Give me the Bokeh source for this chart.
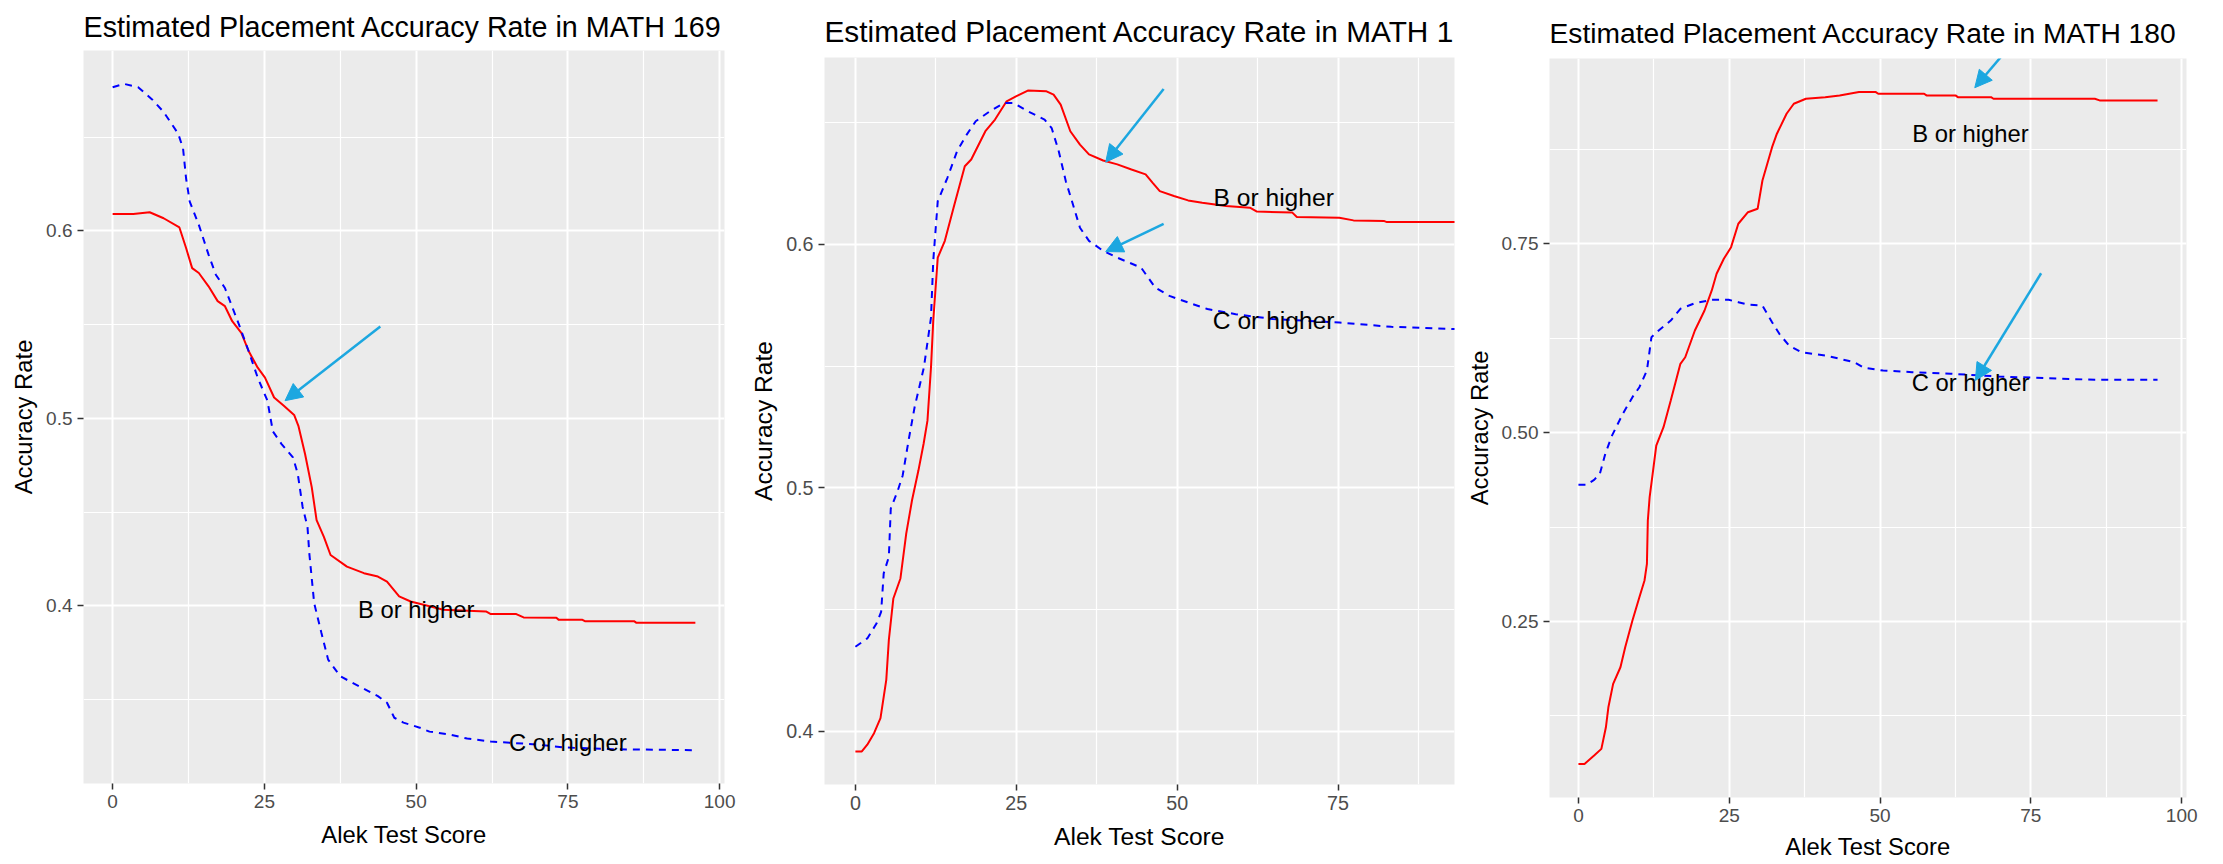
from bokeh.plotting import figure
from bokeh.layouts import row, column
from bokeh.models import Range1d, FixedTicker, PrintfTickFormatter, Arrow, NormalHead
from bokeh.core.properties import value
from bokeh.embed import file_html
from bokeh.resources import INLINE

# ---------------- data ----------------
titles = ["Estimated Placement Accuracy Rate in MATH 169",
          "Estimated Placement Accuracy Rate in MATH 1",
          "Estimated Placement Accuracy Rate in MATH 180"]
x_label = "Alek Test Score"
y_label = "Accuracy Rate"
series_labels = ["B or higher", "C or higher"]

# MATH 169
m169_b_x = [0, 3.4, 6.1, 8.4, 11.0, 12.1, 13.1, 14.2, 15.8, 17.3, 18.5, 19.7, 21.2, 22.4, 23.9, 25.1, 26.6, 28.2,
            29.9, 30.6, 31.7, 32.8, 33.6, 34.8, 35.9, 38.6, 41.4, 43.7, 45.2, 47.2, 49.1, 54.5, 61.5, 62.3, 66.5,
            67.7, 73.1, 73.5, 77.4, 77.8, 85.9, 86.3, 96]
m169_b_y = [0.609, 0.609, 0.6099, 0.6067, 0.6018, 0.5908, 0.5801, 0.5775, 0.5704, 0.5625, 0.5598, 0.5518, 0.5456,
            0.5359, 0.527, 0.5217, 0.5111, 0.5067, 0.5018, 0.496, 0.481, 0.4633, 0.4457, 0.4368, 0.4271, 0.4209,
            0.4174, 0.4156, 0.4129, 0.405, 0.4023, 0.3979, 0.397, 0.3956, 0.3956, 0.3938, 0.3936, 0.3925, 0.3925,
            0.3918, 0.3918, 0.3909, 0.3909]
m169_c_x = [0, 1.85, 4.2, 6.5, 8.4, 10.8, 11.6, 12.1, 12.7, 14.2, 15.8, 17.0, 18.5, 20.8, 22.4, 23.9, 25.5, 26.4,
            27.8, 29.7, 30.5, 31.3, 32.1, 32.4, 33.2, 34.4, 35.5, 37.5, 40.6, 43.7, 45.2, 46.4, 47.9, 50.6, 52.2,
            55.3, 58.4, 62.3, 69.2, 74.7, 82.4, 96]
m169_c_y = [0.6766, 0.6784, 0.6766, 0.6701, 0.6634, 0.6518, 0.6439, 0.6279, 0.6156, 0.6032, 0.5873, 0.5766, 0.5695,
            0.5501, 0.5359, 0.5217, 0.5094, 0.493, 0.4864, 0.4792, 0.4704, 0.4527, 0.4421, 0.428, 0.4014, 0.3855,
            0.3713, 0.3624, 0.3571, 0.3518, 0.3483, 0.3403, 0.3377, 0.335, 0.3329, 0.3315, 0.3292, 0.3276, 0.3262,
            0.3244, 0.3235, 0.323]

# MATH 1.. (cropped panel)
m1_b_x = [0, 1.0, 1.85, 2.9, 3.9, 4.8, 5.2, 5.9, 7.0, 7.9, 8.8, 9.8, 10.6, 11.2, 11.75, 12.1, 12.8, 13.9, 15.4,
          17.0, 18.0, 20.2, 21.7, 23.5, 24.95, 26.8, 29.7, 30.8, 31.9, 33.4, 34.9, 36.3, 38.5, 40.7, 42.9, 45.1,
          46.2, 47.3, 49.5, 51.7, 53.9, 57.6, 61.3, 62.4, 67.9, 68.6, 75.2, 77.4, 82.2, 82.6, 96]
m1_b_y = [0.3918, 0.3918, 0.3946, 0.3993, 0.4055, 0.4212, 0.4376, 0.4546, 0.4628, 0.4812, 0.4949, 0.5072, 0.5181,
          0.5276, 0.5495, 0.5686, 0.5945, 0.6014, 0.6164, 0.632, 0.6348, 0.6464, 0.6512, 0.6587, 0.6607, 0.6631,
          0.6628, 0.6614, 0.6573, 0.6464, 0.6409, 0.6369, 0.6344, 0.6328, 0.6307, 0.6287, 0.6252, 0.6218, 0.6198,
          0.618, 0.617, 0.6157, 0.615, 0.6134, 0.613, 0.6112, 0.6109, 0.6098, 0.6095, 0.6091, 0.6091]
m1_c_x = [0, 1.85, 3.3, 4.0, 4.4, 5.2, 5.5, 6.6, 7.35, 8.3, 9.2, 10.65, 11.75, 12.1, 12.8, 14.3, 15.8, 17.3, 18.7,
          20.9, 23.1, 24.6, 26.8, 29.4, 30.5, 31.6, 32.7, 33.8, 34.9, 36.3, 38.5, 40.7, 44.4, 46.6, 48.8, 51.7,
          54.7, 59.1, 64.9, 75.2, 83.3, 93.2, 96]
m1_c_y = [0.4348, 0.4382, 0.4444, 0.4491, 0.4649, 0.4717, 0.4915, 0.499, 0.5051, 0.52, 0.5331, 0.5495, 0.5699,
          0.5932, 0.6177, 0.6273, 0.6382, 0.645, 0.6505, 0.6546, 0.658, 0.658, 0.6546, 0.6512, 0.6477, 0.6382,
          0.6259, 0.6164, 0.6068, 0.6014, 0.5973, 0.5945, 0.5904, 0.5822, 0.5788, 0.5761, 0.5734, 0.5713, 0.5693,
          0.5679, 0.5661, 0.5652, 0.565]

# MATH 180
m180_b_x = [0, 1.0, 2.6, 3.8, 4.55, 4.96, 5.75, 6.96, 7.75, 8.95, 10.1, 10.95, 11.35, 11.5, 11.8, 12.3, 12.9, 14.1,
            15.3, 16.9, 17.7, 19.3, 20.9, 22.1, 22.9, 24.1, 25.3, 26.5, 28.1, 29.7, 30.5, 32.1, 32.9, 34.5, 35.7,
            37.7, 40.9, 43.3, 46.5, 49.3, 49.7, 57.3, 57.7, 62.5, 62.9, 68.4, 68.8, 85.6, 86.4, 96]
m180_b_y = [0.0614, 0.0614, 0.0724, 0.0813, 0.1099, 0.1364, 0.1674, 0.1894, 0.2158, 0.2512, 0.282, 0.3042, 0.3263,
            0.3836, 0.4145, 0.4454, 0.4829, 0.5072, 0.5425, 0.5911, 0.5998, 0.6352, 0.6617, 0.6882, 0.7103, 0.7301,
            0.7455, 0.7765, 0.7918, 0.7963, 0.8338, 0.8779, 0.8957, 0.9221, 0.9354, 0.942, 0.9441, 0.9464, 0.9508,
            0.9508, 0.9486, 0.9486, 0.9464, 0.9464, 0.9441, 0.9441, 0.942, 0.942, 0.9398, 0.9398]
m180_c_x = [0, 1.35, 2.6, 3.55, 4.45, 5.5, 7.35, 8.95, 10.1, 11.35, 12.1, 13.3, 15.3, 16.9, 19.3, 22.1, 24.9, 26.5,
            28.1, 30.5, 32.1, 33.3, 34.9, 36.9, 40.9, 43.3, 45.7, 47.3, 50.5, 55.3, 61.7, 69.6, 77.6, 85.6, 96]
m180_c_y = [0.4309, 0.4309, 0.4375, 0.4454, 0.4719, 0.495, 0.5249, 0.5469, 0.5601, 0.5822, 0.6263, 0.6352, 0.6484,
            0.6639, 0.6713, 0.6758, 0.6758, 0.6727, 0.6696, 0.6683, 0.6462, 0.6308, 0.6153, 0.6065, 0.6021, 0.5977,
            0.5932, 0.5858, 0.5822, 0.58, 0.5779, 0.5743, 0.5721, 0.5699, 0.5699]

# text label anchors (x, y) for "B or higher", "C or higher"
m169_lab_x = [50, 75]
m169_lab_y = [0.398, 0.327]
m1_lab_x = [65, 65]
m1_lab_y = [0.619, 0.5686]
m180_lab_x = [65, 65]
m180_lab_y = [0.8957, 0.5667]

# arrows: (x_start, y_start, x_end, y_end)
m169_arrows = [(44.1, 0.549, 28.4, 0.5094)]
m1_arrows = [(47.9, 0.6637, 38.9, 0.6337), (47.9, 0.6084, 38.9, 0.597)]
m180_arrows = [(76.7, 1.06, 65.7, 0.9566), (76.7, 0.711, 65.8, 0.569)]

x_ticks = [0, 25, 50, 75, 100]
x_minor = [12.5, 37.5, 62.5, 87.5]
y_ticks_a = [0.4, 0.5, 0.6]
y_minor_a = [0.35, 0.45, 0.55, 0.65]
y_ticks_b = [0.25, 0.50, 0.75]
y_minor_b = [0.125, 0.375, 0.625, 0.875]
m1_x_view_end = 93.1   # the middle panel is cropped on the right

FONT = "Liberation Sans"
RED = "#FF0000"
BLUE = "#0000FF"
ARROW = "#1CA7E0"


def expand(vals, frac=0.05):
    lo, hi = min(vals), max(vals)
    pad = (hi - lo) * frac
    return lo - pad, hi + pad


def make_panel(title, bx, by, cx, cy, lab_x, lab_y, arrows, yt, ym, yfmt,
               width, height, ml, mr, mt, mb, s, title_size, title_standoff,
               x_end=None, tick_standoff=5, label_standoff=2):
    x0, x1 = expand(bx + cx)
    if x_end is not None:
        x1 = x_end
    y0, y1 = expand(by + cy)
    p = figure(width=width, height=height, output_backend="svg", toolbar_location=None,
               x_range=Range1d(x0, x1), y_range=Range1d(y0, y1),
               min_border_left=ml, min_border_right=mr, min_border_top=mt, min_border_bottom=mb)
    p.title.text = title
    p.title.text_font = FONT
    p.title.text_font_size = f"{title_size}px"
    p.title.text_font_style = "normal"
    p.title.text_color = "black"
    p.title.text_line_height = 1.0
    p.title.standoff = title_standoff
    p.background_fill_color = "#EBEBEB"
    p.border_fill_color = "white"
    p.outline_line_color = None

    p.xaxis.ticker = FixedTicker(ticks=x_ticks, minor_ticks=x_minor)
    p.yaxis.ticker = FixedTicker(ticks=yt, minor_ticks=ym)
    p.yaxis.formatter = PrintfTickFormatter(format=yfmt)
    for ax in (p.xaxis[0], p.yaxis[0]):
        ax.axis_line_color = None
        ax.major_tick_line_color = "#333333"
        ax.major_tick_line_width = 1.5
        ax.major_tick_out = 6
        ax.major_tick_in = 0
        ax.minor_tick_line_color = None
        ax.major_label_text_font = FONT
        ax.major_label_text_font_size = f"{s * 0.8:.1f}px"
        ax.major_label_text_color = "#4D4D4D"
        ax.axis_label_text_font = FONT
        ax.axis_label_text_font_size = f"{s:.1f}px"
        ax.axis_label_text_font_style = "normal"
        ax.axis_label_text_color = "black"
    p.yaxis.major_label_standoff = 5
    p.yaxis.axis_label_standoff = 6
    p.xaxis.major_label_standoff = tick_standoff
    p.xaxis.axis_label_standoff = label_standoff
    p.xaxis.axis_label = x_label
    p.yaxis.axis_label = y_label

    for g in (p.xgrid[0], p.ygrid[0]):
        g.grid_line_color = "white"
        g.grid_line_width = 2
        g.minor_grid_line_color = "white"
        g.minor_grid_line_width = 1.2

    p.line(bx, by, line_color=RED, line_width=2)
    p.line(cx, cy, line_color=BLUE, line_width=2, line_dash="7 6")
    p.text(x=lab_x, y=lab_y, text=series_labels, text_font=value(FONT), text_font_size=f"{s:.1f}px",
           text_align="center", text_baseline="middle", text_color="black")
    for (xs, ys, xe, ye) in arrows:
        p.add_layout(Arrow(end=NormalHead(size=17, fill_color=ARROW, line_color=ARROW),
                           x_start=xs, y_start=ys, x_end=xe, y_end=ye,
                           line_color=ARROW, line_width=2.5, level="overlay"))
    return p


p1 = make_panel(titles[0], m169_b_x, m169_b_y, m169_c_x, m169_c_y, m169_lab_x, m169_lab_y, m169_arrows,
                y_ticks_a, y_minor_a, "%.1f", 738, 864, 83, 14, 50, 81, 23.8, 28.7, 15,
                tick_standoff=5, label_standoff=10)
p2 = make_panel(titles[1], m1_b_x, m1_b_y, m1_c_x, m1_c_y, m1_lab_x, m1_lab_y, m1_arrows,
                y_ticks_a, y_minor_a, "%.1f", 720, 864, 86, 4, 57, 80, 24.6, 29.8, 19, x_end=m1_x_view_end,
                tick_standoff=5, label_standoff=10)
p3 = make_panel(titles[2], m180_b_x, m180_b_y, m180_c_x, m180_c_y, m180_lab_x, m180_lab_y, m180_arrows,
                y_ticks_b, y_minor_b, "%.2f", 765, 864, 91, 37, 58, 67, 23.8, 28.2, 20,
                tick_standoff=5, label_standoff=8)

layout = row(column(p1), column(p2), column(p3))
open("out.html", "w").write(file_html(layout, INLINE))
